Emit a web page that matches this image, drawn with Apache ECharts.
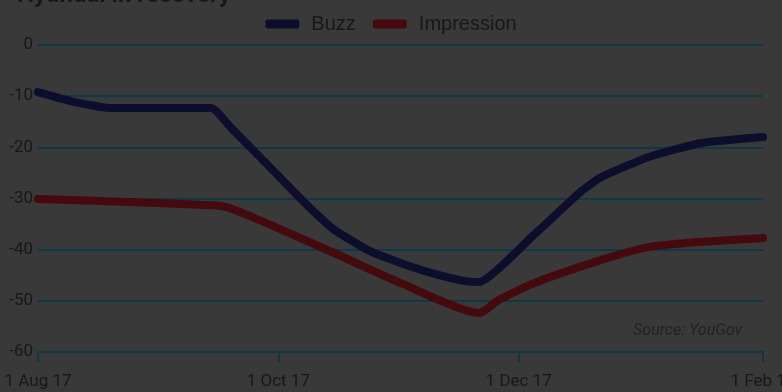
<!DOCTYPE html>
<html>
<head>
<meta charset="utf-8">
<script src="https://cdn.jsdelivr.net/npm/echarts@6/dist/echarts.min.js"></script>
<style>
  html, body { margin: 0; padding: 0; background: #393939; }
  #chart { width: 782px; height: 392px; }
</style>
</head>
<body>
<div id="chart"></div>
<script>
const buzzDates = ['2017-08-01', '2017-08-10', '2017-08-19', '2017-09-14', '2017-09-19', '2017-09-28',
  '2017-10-07', '2017-10-15', '2017-10-24', '2017-11-01', '2017-11-09', '2017-11-17', '2017-11-21',
  '2017-12-05', '2017-12-17', '2017-12-22', '2018-01-03', '2018-01-16', '2018-02-01']
const buzzValues = [-9.2, -11.1, -12.3, -12.3, -16.2, -23.2, -30.3, -36, -40.2, -42.6, -44.6, -46.1, -46.3,
  -37, -28.5, -25.8, -21.9, -19.2, -18]

const impressionDates = ['2017-08-01', '2017-08-24', '2017-09-14', '2017-09-18', '2017-09-28', '2017-10-15',
  '2017-11-01', '2017-11-21', '2017-11-26', '2017-12-05', '2017-12-22', '2018-01-03', '2018-01-16', '2018-02-01']
const impressionValues = [-30.1, -30.7, -31.3, -31.7, -34.8, -40.6, -46.5, -52.4, -49.8, -46.5, -42, -39.5,
  -38.5, -37.7]

const xTickDates = ['2017-08-01', '2017-10-01', '2017-12-01', '2018-02-01']
const xTickLabels = ['1 Aug 17', '1 Oct 17', '1 Dec 17', '1 Feb 18']

// days since the first tick date, so the x axis is a plain value axis
const dayMs = 24 * 3600 * 1000
const toDay = (s) => {
  const [y, m, d] = s.split('-').map(Number)
  const [y0, m0, d0] = xTickDates[0].split('-').map(Number)
  return Math.round((Date.UTC(y, m - 1, d) - Date.UTC(y0, m0 - 1, d0)) / dayMs)
}
const tickDays = xTickDates.map(toDay)

const textColor = '#181818'
const gridColor = '#0d3847'
const axisFont = "Roboto, sans-serif"

const chart = echarts.init(document.getElementById('chart'))
chart.setOption({
  backgroundColor: '#393939',
  animation: false,
  title: {
    text: 'Hyundai in recovery',
    left: 12,
    top: -21,
    textStyle: { fontFamily: axisFont, fontSize: 24, fontWeight: 'bold', color: textColor },
  },
  legend: {
    top: 9,
    left: 'center',
    itemWidth: 34,
    itemHeight: 9,
    itemGap: 17,
    icon: 'roundRect',
    textStyle: {
      fontFamily: "'Liberation Sans', sans-serif",
      fontSize: 20,
      color: textColor,
      padding: [0, 0, 0, 7],
    },
    data: ['Buzz', 'Impression'],
  },
  grid: { left: 38, right: 19, top: 45, bottom: 40, outerBoundsMode: 'none' },
  xAxis: {
    type: 'value',
    min: tickDays[0],
    max: tickDays[tickDays.length - 1],
    axisLine: { onZero: false, lineStyle: { color: gridColor, width: 2 } },
    axisTick: { show: true, length: 10, customValues: tickDays, lineStyle: { color: gridColor, width: 2 } },
    splitLine: { show: false },
    axisLabel: {
      customValues: tickDays,
      margin: 21,
      fontFamily: axisFont,
      fontSize: 17,
      color: textColor,
      hideOverlap: false,
      formatter: (v) => xTickLabels[tickDays.indexOf(v)] ?? '',
    },
  },
  yAxis: {
    type: 'value',
    min: -60,
    max: 0,
    interval: 10,
    axisLine: { show: false },
    axisTick: { show: false },
    axisLabel: { margin: 5, fontFamily: axisFont, fontSize: 17, color: textColor },
    splitLine: { lineStyle: { color: gridColor, width: 2 } },
  },
  graphic: [
    {
      type: 'text',
      right: 40,
      top: 323,
      style: {
        text: 'Source: YouGov',
        fontFamily: axisFont,
        fontStyle: 'italic',
        fontSize: 16,
        fill: '#222222',
      },
    },
  ],
  series: [
    {
      name: 'Buzz',
      type: 'line',
      smooth: 0.15,
      showSymbol: false,
      lineStyle: { width: 8, color: '#0c0e2b', cap: 'round', join: 'round' },
      itemStyle: { color: '#0c0e2b' },
      data: buzzDates.map((d, i) => [toDay(d), buzzValues[i]]),
    },
    {
      name: 'Impression',
      type: 'line',
      smooth: 0.2,
      showSymbol: false,
      lineStyle: { width: 8, color: '#450a0d', cap: 'round', join: 'round' },
      itemStyle: { color: '#450a0d' },
      data: impressionDates.map((d, i) => [toDay(d), impressionValues[i]]),
    },
  ],
})
</script>
</body>
</html>
